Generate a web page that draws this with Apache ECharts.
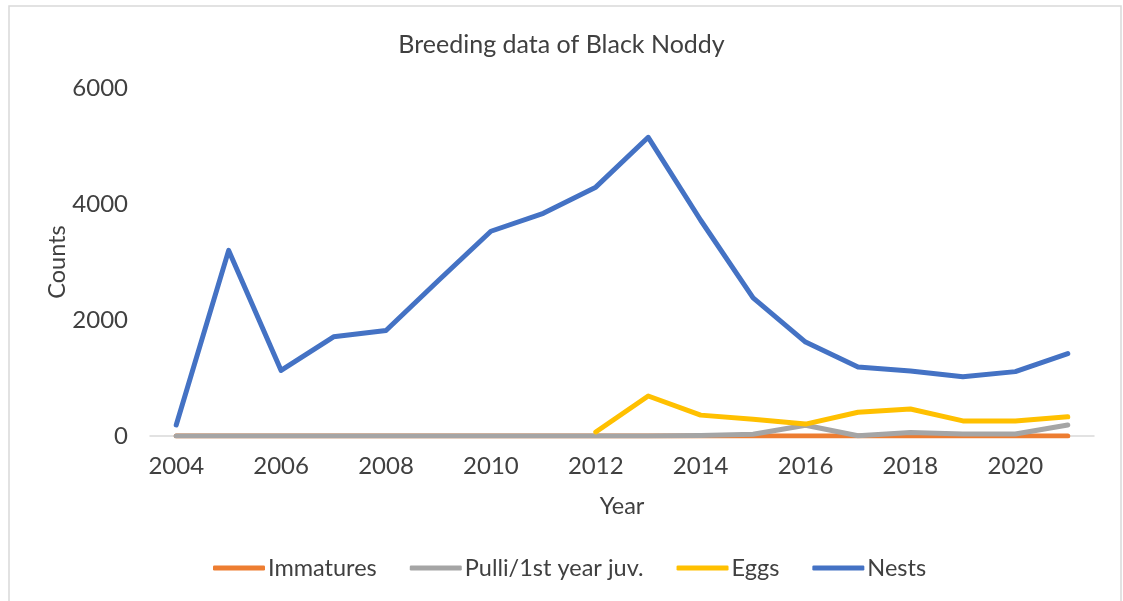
<!DOCTYPE html>
<html>
<head>
<meta charset="utf-8">
<script src="https://cdn.jsdelivr.net/npm/echarts@6/dist/echarts.min.js"></script>
<style>
  html, body { margin: 0; padding: 0; background: #fff; }
  #chart { width: 1123px; height: 601px; }
</style>
</head>
<body>
<div id="chart"></div>
<script>
// Survey years
const years = ['2004','2005','2006','2007','2008','2009','2010','2011','2012',
               '2013','2014','2015','2016','2017','2018','2019','2020','2021'];

// Counts per year for each breeding category
const immatures = [0,0,0,0,0,0,0,0,0,0,0,0,0,0,0,0,0,0];
const pulli     = [0,0,0,0,0,0,0,0,0,0,10,30,185,5,60,35,35,190];
const eggs      = [null,null,null,null,null,null,null,null,70,690,360,290,205,410,465,260,260,330];
const nests     = [190,3200,1130,1710,1820,2680,3530,3840,4290,5150,3720,2380,1620,1190,1120,1020,1110,1420];

const yTicks = [0, 2000, 4000, 6000];

const FONT = 'Lato';
const TEXT = '#404040';

const chart = echarts.init(document.getElementById('chart'));

function lineSeries(name, data, color) {
  return {
    name: name,
    type: 'line',
    data: data,
    symbol: 'none',
    showSymbol: false,
    connectNulls: false,
    lineStyle: { width: 5, color: color, cap: 'round', join: 'round' },
    itemStyle: { color: color },
    emphasis: { disabled: true },
    animation: false
  };
}

chart.setOption({
  animation: false,
  title: {
    text: 'Breeding data of Black Noddy',
    left: 'center',
    top: 27,
    textStyle: { fontFamily: FONT, fontSize: 25, fontWeight: 'normal', color: TEXT }
  },
  legend: {
    left: 208,
    top: 551,
    itemWidth: 52,
    itemHeight: 5,
    itemGap: 33,
    icon: 'roundRect',
    textStyle: { fontFamily: FONT, fontSize: 23.5, color: TEXT, padding: [0, 0, 0, -2] },
    data: ['Immatures', 'Pulli/1st year juv.', 'Eggs', 'Nests']
  },
  grid: { left: 150, right: 29, top: 88, bottom: 165, containLabel: false },
  xAxis: {
    type: 'category',
    data: years,
    boundaryGap: true,
    name: 'Year',
    nameLocation: 'middle',
    nameGap: 58,
    nameTextStyle: { fontFamily: FONT, fontSize: 23.5, color: TEXT },
    axisLine: { show: true, lineStyle: { color: '#d9d9d9', width: 1.5 } },
    axisTick: { show: false },
    axisLabel: {
      interval: 1,
      margin: 18,
      fontFamily: FONT, fontSize: 24, color: TEXT
    },
    splitLine: { show: false }
  },
  yAxis: {
    type: 'value',
    min: yTicks[0],
    max: yTicks[yTicks.length - 1],
    interval: 2000,
    name: 'Counts',
    nameLocation: 'middle',
    nameGap: 81,
    nameRotate: 90,
    nameMoveOverlap: false,
    nameTextStyle: { fontFamily: FONT, fontSize: 23.5, color: TEXT },
    axisLine: { show: false },
    axisTick: { show: false },
    axisLabel: {
      margin: 22, fontFamily: FONT, fontSize: 24, color: TEXT,
      formatter: function (v) { return String(v); }
    },
    splitLine: { show: false }
  },
  graphic: [{
    type: 'rect',
    shape: { x: 9, y: 6, width: 1112, height: 620 },
    style: { fill: null, stroke: '#d9d9d9', lineWidth: 1.5 },
    silent: true,
    z: -1
  }],
  series: [
    lineSeries('Immatures', immatures, '#ED7D31'),
    lineSeries('Pulli/1st year juv.', pulli, '#A5A5A5'),
    lineSeries('Eggs', eggs, '#FFC000'),
    lineSeries('Nests', nests, '#4472C4')
  ]
});
</script>
</body>
</html>
